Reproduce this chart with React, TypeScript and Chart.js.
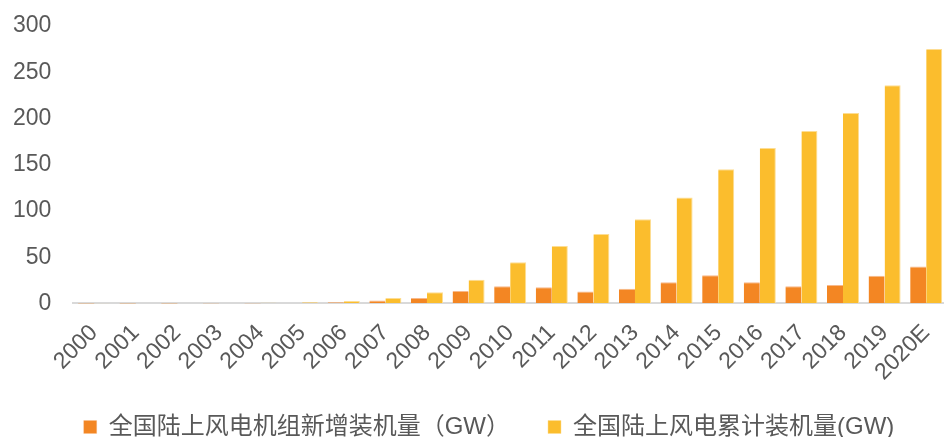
import React, { useEffect, useRef } from "react";
import { Chart, registerables } from "chart.js";

Chart.register(...registerables);

const years = [
  "2000", "2001", "2002", "2003", "2004", "2005", "2006", "2007", "2008", "2009", "2010",
  "2011", "2012", "2013", "2014", "2015", "2016", "2017", "2018", "2019", "2020E",
];

// 全国陆上风电机组新增装机量（GW）
const newlyInstalled = [
  0.08, 0.04, 0.07, 0.1, 0.2, 0.5, 1.3, 3.3, 6.0, 13.5, 18.5,
  17.5, 13.0, 16.0, 23.0, 30.5, 23.0, 18.5, 20.0, 30.0, 40.0,
];

// 全国陆上风电累计装机量(GW)
const cumulative = [
  0.34, 0.38, 0.47, 0.57, 0.76, 1.26, 2.6, 5.9, 12.0, 25.5, 44.5,
  62.0, 75.0, 91.0, 114.5, 145.0, 168.0, 186.5, 206.0, 236.0, 275.0,
];

const yTicks = [0, 50, 100, 150, 200, 250, 300];

const seriesNames = ["全国陆上风电机组新增装机量（GW）", "全国陆上风电累计装机量(GW)"];

const FONT = "'Liberation Sans', Arial, 'Noto Sans CJK SC', sans-serif";
const TEXT = "#595959";

// Legend row: spacing between entries, and where the row sits
const LEGEND_GAP = 38;
const LEGEND_HEIGHT = 35;
const LEGEND_ROW_TOP = 415;
const LEGEND_SHIFT_X = 10;

const legendPlacement = {
  id: "legendPlacement",
  afterLayout(chart: any) {
    const legend = chart.legend;
    if (!legend) return;
    legend.top = LEGEND_ROW_TOP - LEGEND_GAP;
    legend.bottom = chart.height;
    legend.height = legend.bottom - legend.top;
    legend.left += LEGEND_SHIFT_X;
    legend.right += LEGEND_SHIFT_X;
  },
};

export default function App() {
  const canvasRef = useRef<HTMLCanvasElement | null>(null);

  useEffect(() => {
    if (!canvasRef.current) return;
    const chart = new Chart(canvasRef.current, {
      type: "bar",
      data: {
        labels: years,
        datasets: [
          {
            label: seriesNames[0],
            data: newlyInstalled,
            backgroundColor: "#F38623",
            borderColor: "#F8B98A",
            borderWidth: { top: 1, right: 0, left: 0, bottom: 0 },
            borderSkipped: "bottom",
            categoryPercentage: 0.77,
            barPercentage: 1,
          },
          {
            label: seriesNames[1],
            data: cumulative,
            backgroundColor: "#FBBD2D",
            borderColor: "#FDDD93",
            borderWidth: { top: 1, right: 1, left: 0, bottom: 0 },
            borderSkipped: "bottom",
            categoryPercentage: 0.77,
            barPercentage: 1,
          },
        ],
      },
      plugins: [legendPlacement],
      options: {
        animation: false,
        responsive: true,
        maintainAspectRatio: false,
        layout: { padding: { left: 11, top: 26, right: 0, bottom: 0 } },
        plugins: {
          tooltip: { enabled: false },
          legend: {
            position: "bottom",
            maxHeight: LEGEND_HEIGHT,
            labels: {
              boxWidth: 13,
              boxHeight: 13,
              padding: LEGEND_GAP,
              color: TEXT,
              font: { family: FONT, size: 24 },
            },
          },
        },
        scales: {
          x: {
            grid: { display: false, drawTicks: false },
            border: { display: true, color: "#D9D9D9", width: 2 },
            ticks: {
              color: TEXT,
              font: { family: FONT, size: 23 },
              minRotation: 45,
              maxRotation: 45,
              autoSkip: false,
              padding: 16,
            },
            afterFit: (axis: any) => {
              axis.paddingLeft = 0;
              axis.paddingRight = 0;
            },
          },
          y: {
            min: 0,
            max: 300,
            afterBuildTicks: (axis: any) => {
              axis.ticks = yTicks.map((v) => ({ value: v }));
            },
            grid: {
              display: true,
              drawOnChartArea: false,
              drawTicks: true,
              tickLength: 20,
              color: "rgba(0,0,0,0)",
            },
            border: { display: false },
            ticks: {
              color: TEXT,
              font: { family: FONT, size: 23 },
              padding: 2,
            },
          },
        },
      },
    });
    return () => chart.destroy();
  }, []);

  return (
    <div
      style={{
        position: "fixed",
        left: 0,
        top: 0,
        width: 944,
        height: 437,
        overflow: "hidden",
        background: "#fff",
      }}
    >
      <div style={{ position: "relative", width: 947, height: 437 }}>
        <canvas ref={canvasRef} />
      </div>
    </div>
  );
}
